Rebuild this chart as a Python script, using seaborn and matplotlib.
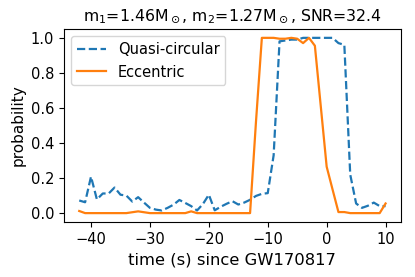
import numpy as np
import pandas as pd
import seaborn as sns
import matplotlib
matplotlib.use("Agg")
import matplotlib.pyplot as plt

# time (s) relative to GW170817
time = [-42, -41, -40, -39, -38, -37, -36, -35, -34, -33, -32, -31, -30,
        -29, -28, -27, -26, -25, -24, -23, -22, -21, -20, -19, -18, -17,
        -16, -15, -14, -13, -12, -11, -10, -9, -8, -7, -6, -5, -4, -3,
        -2, -1, 0, 1, 2, 3, 4, 5, 6, 7, 8, 9, 10]

quasi_circular = [0.072, 0.062, 0.208, 0.078, 0.112, 0.112, 0.146, 0.105,
                  0.100, 0.066, 0.091, 0.060, 0.030, 0.020, 0.015, 0.030,
                  0.048, 0.075, 0.058, 0.040, 0.015, 0.052, 0.105, 0.016,
                  0.036, 0.053, 0.068, 0.049, 0.060, 0.076, 0.098, 0.110,
                  0.114, 0.330, 0.980, 0.985, 0.990, 0.990, 1.000, 1.000,
                  1.000, 1.000, 1.000, 1.000, 0.970, 0.960, 0.220, 0.055,
                  0.030, 0.042, 0.060, 0.040, 0.040]

eccentric = [0.012, 0.000, 0.000, 0.000, 0.000, 0.000, 0.000, 0.000,
             0.000, 0.005, 0.010, 0.005, 0.000, 0.000, 0.000, 0.000,
             0.000, 0.000, 0.000, 0.010, 0.000, 0.000, 0.000, 0.000,
             0.000, 0.000, 0.000, 0.000, 0.000, 0.000, 0.520, 1.000,
             1.000, 1.000, 0.995, 0.995, 1.000, 0.995, 0.970, 1.000,
             0.955, 0.610, 0.265, 0.135, 0.006, 0.006, 0.000, 0.000,
             0.000, 0.000, 0.000, 0.000, 0.055]

df = pd.DataFrame({"time": time, "qc": quasi_circular, "ecc": eccentric})

fig, ax = plt.subplots(figsize=(4.15, 2.77), dpi=100)

sns.lineplot(data=df, x="time", y="qc", ax=ax, color="tab:blue",
             linestyle="--", linewidth=1.6, label="Quasi-circular")
sns.lineplot(data=df, x="time", y="ecc", ax=ax, color="tab:orange",
             linestyle="-", linewidth=1.6, label="Eccentric")

ax.set_xlabel("time (s) since GW170817", fontsize=11.8)
ax.set_ylabel("probability", fontsize=11)
ax.set_title(r"m$_1$=1.46M$_\odot$, m$_2$=1.27M$_\odot$, SNR=32.4", fontsize=11.3)
ax.set_xticks([-40, -30, -20, -10, 0, 10])
ax.set_yticks([0.0, 0.2, 0.4, 0.6, 0.8, 1.0])
ax.tick_params(labelsize=10.5)
ax.legend(loc="upper left", fontsize=10.5)

fig.subplots_adjust(left=0.154, right=0.966, top=0.895, bottom=0.199)
fig.savefig("out.png", dpi=100)
